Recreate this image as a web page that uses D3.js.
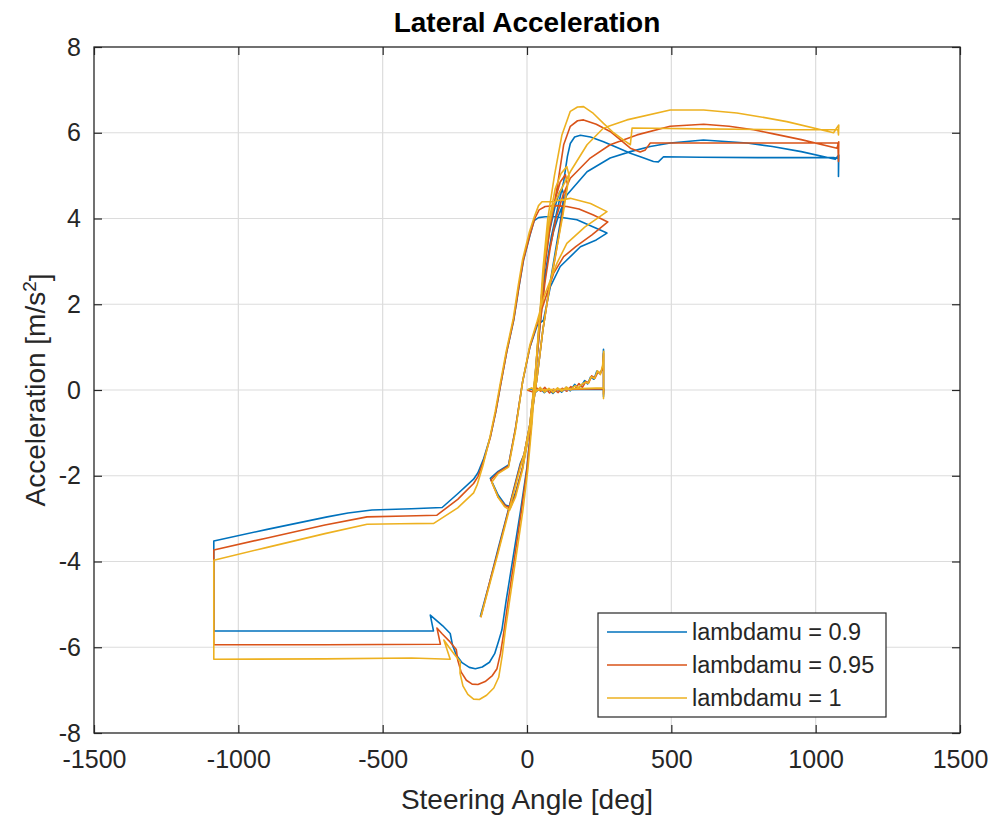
<!DOCTYPE html>
<html>
<head>
<meta charset="utf-8">
<script src="https://cdn.jsdelivr.net/npm/d3@7"></script>
<style>
  body { margin: 0; background: #fff; }
  text { font-family: "Liberation Sans", Arial, sans-serif; fill: #262626; }
</style>
</head>
<body>
<div id="chart"></div>
<script>
// steering angle [deg], lateral acceleration [m/s^2]
var lambda090 = [
  [0,0],[15,0.03],[30,-0.05],[45,0.04],[60,-0.06],[75,0.02],[90,-0.08],[105,0.03],[120,-0.05],[135,0.06],
  [150,-0.02],[165,0.13],[178,0.04],[190,0.12],[200,0.22],[210,0.14],[220,0.3],[232,0.25],[242,0.44],[252,0.38],
  [262,0.5],[265,0.95],[265,-0.15],[266,0.02],[25,0],
  [35,0.9],[48,2.0],[60,2.9],[78,3.7],[98,4.3],[112,4.6],[121,4.7],[128,4.55],
  [115,3.9],[95,3.1],[75,2.3],[55,1.4],[35,0.3],[12,-0.8],[-15,-1.8],[-40,-2.4],[-58,-2.72],
  [-75,-2.68],[-100,-2.45],[-127,-2.06],[-100,-1.9],[-64,-1.75],
  [-40,-0.9],[-15,0.2],[10,1.0],[35,1.5],[57,1.63],[81,2.41],[115,2.88],[185,3.34],[240,3.5],[277,3.66],
  [230,3.8],[173,3.97],[104,4.04],[63,4.04],[40,4.02],
  [25,3.95],[10,3.6],[-12,3.03],[-28,2.4],[-46,1.63],[-70,0.9],[-92,0.1],[-108,-0.5],[-127,-1.09],[-150,-1.6],[-170,-1.93],[-185,-2.08],
  [-240,-2.42],[-294,-2.74],[-400,-2.77],[-537,-2.8],[-620,-2.87],[-692,-2.96],[-900,-3.25],[-1085,-3.52],
  [-1085,-5.62],[-700,-5.62],[-324,-5.62],
  [-335,-5.25],[-318,-5.35],[-292,-5.5],[-266,-5.68],
  [-258,-5.95],[-245,-6.18],[-225,-6.36],[-200,-6.47],[-179,-6.5],[-155,-6.46],[-130,-6.35],[-112,-6.15],[-98,-5.85],[-87,-5.6],
  [-72,-4.9],[-48,-3.9],[-22,-2.8],[0,-1.8],[15,-0.8],[28,0.3],[42,1.5],[60,2.6],[85,3.6],[108,4.3],
  [127,4.86],[140,5.45],[150,5.75],[165,5.9],[185,5.94],[220,5.9],[265,5.79],[310,5.66],[358,5.52],
  [400,5.42],[438,5.33],[455,5.32],[473,5.44],[600,5.43],[800,5.42],[1062,5.42],[1079,5.4],
  [1079,4.98],[1080,5.48],
  [1068,5.38],[950,5.56],[850,5.68],[762,5.76],[611,5.83],[496,5.76],[427,5.68],[358,5.56],[288,5.41],
  [208,5.09],[138,4.55],[110,4.08],[92,3.7],[75,3.2],[60,2.5],[45,1.5],[30,0.4],[10,-0.8],[-10,-1.5],[-23,-1.71],
  [-60,-2.68],[-100,-3.7],[-130,-4.5],[-162,-5.29]
];

var lambda095 = [
  [0,0],[18,-0.04],[33,0.05],[48,-0.03],[62,0.06],[78,-0.07],[92,0.02],[108,-0.06],[122,0.04],[138,-0.03],
  [152,0.08],[166,0.02],[180,0.15],[192,0.06],[204,0.2],[214,0.17],[224,0.33],[236,0.28],[246,0.42],[256,0.4],
  [263,0.55],[265,0.85],[265,-0.1],[266,0.03],[25,0],
  [35,0.9],[48,2.0],[60,2.95],[78,3.8],[98,4.45],[115,4.85],[133,5.02],[140,4.8],
  [120,4.0],[98,3.1],[76,2.3],[55,1.4],[35,0.3],[12,-0.8],[-15,-1.8],[-40,-2.45],[-58,-2.75],
  [-75,-2.7],[-100,-2.5],[-125,-2.1],[-100,-1.92],[-64,-1.77],
  [-40,-0.9],[-15,0.2],[10,1.0],[35,1.55],[57,2.0],[92,2.72],[127,3.11],[170,3.35],[225,3.62],[280,3.92],
  [230,4.08],[180,4.22],[138,4.28],[100,4.3],[63,4.28],[42,4.2],
  [27,4.0],[10,3.62],[-12,3.05],[-28,2.42],[-46,1.65],[-70,0.9],[-92,0.1],[-108,-0.5],[-127,-1.1],[-150,-1.65],[-170,-2.02],[-185,-2.18],
  [-240,-2.55],[-312,-2.92],[-420,-2.94],[-554,-2.96],[-700,-3.15],[-900,-3.45],[-1085,-3.73],
  [-1085,-5.94],[-700,-5.94],[-300,-5.93],
  [-312,-5.55],[-295,-5.68],[-270,-5.85],[-245,-6.05],
  [-240,-6.3],[-228,-6.58],[-210,-6.77],[-190,-6.86],[-170,-6.87],[-145,-6.8],[-120,-6.66],[-104,-6.5],[-92,-6.15],[-81,-5.68],
  [-66,-4.95],[-44,-3.95],[-20,-2.85],[0,-1.85],[15,-0.8],[28,0.3],[42,1.5],[58,2.7],[80,3.8],[105,4.75],
  [127,5.72],[150,6.15],[175,6.28],[196,6.3],[240,6.2],[288,6.03],[330,5.8],[358,5.64],[392,5.55],
  [410,5.6],[427,5.76],[600,5.76],[900,5.76],[1077,5.76],
  [1079,5.33],[1080,5.79],
  [1074,5.64],[950,5.84],[850,5.98],[785,6.07],[700,6.15],[612,6.2],[496,6.15],[381,5.95],[288,5.72],
  [219,5.41],[150,4.94],[125,4.55],[100,4.0],[80,3.3],[62,2.5],[45,1.5],[30,0.4],[10,-0.8],[-10,-1.5],[-23,-1.75],
  [-60,-2.7],[-100,-3.75],[-130,-4.5],[-160,-5.3]
];

var lambda100 = [
  [0,0],[16,0.05],[31,-0.04],[46,0.06],[61,-0.05],[76,0.04],[91,-0.06],[106,0.05],[121,-0.03],[136,0.07],
  [151,0.0],[166,0.1],[179,0.06],[191,0.14],[202,0.18],[212,0.16],[222,0.31],[234,0.27],[244,0.45],[254,0.36],
  [262,0.58],[266,0.9],[265,-0.2],[266,0.05],[25,0],
  [35,0.95],[48,2.1],[60,3.1],[78,4.0],[98,4.7],[118,5.05],[138,5.21],[146,5.0],
  [125,4.1],[100,3.2],[78,2.4],[55,1.4],[35,0.3],[12,-0.8],[-15,-1.85],[-40,-2.5],[-60,-2.8],
  [-78,-2.72],[-100,-2.5],[-122,-2.15],[-100,-1.95],[-64,-1.8],
  [-40,-0.95],[-15,0.2],[10,1.05],[35,1.6],[60,2.2],[104,2.96],[138,3.42],[200,3.8],[277,4.16],
  [220,4.35],[150,4.47],[81,4.39],[52,4.39],[40,4.3],
  [26,4.05],[8,3.68],[-15,3.05],[-30,2.45],[-48,1.65],[-72,0.9],[-94,0.1],[-110,-0.5],[-130,-1.15],[-152,-1.75],[-172,-2.2],[-185,-2.4],
  [-240,-2.75],[-323,-3.11],[-440,-3.12],[-554,-3.13],[-700,-3.35],[-900,-3.67],[-1085,-3.97],
  [-1085,-6.28],[-700,-6.27],[-400,-6.25],[-266,-6.28],
  [-288,-5.83],[-270,-6.0],[-250,-6.18],[-231,-6.34],
  [-232,-6.6],[-222,-6.9],[-205,-7.1],[-185,-7.21],[-165,-7.22],[-140,-7.12],[-115,-6.95],[-98,-6.7],[-86,-6.2],[-75,-5.6],
  [-60,-4.9],[-38,-3.9],[-15,-2.85],[3,-1.85],[17,-0.8],[29,0.3],[42,1.5],[55,2.8],[72,4.0],[95,5.0],
  [121,5.95],[150,6.5],[175,6.6],[196,6.61],[230,6.45],[265,6.22],[300,6.0],[335,5.83],[358,5.72],
  [364,6.11],[600,6.09],[900,6.07],[1077,6.07],
  [1079,5.95],[1080,6.18],
  [1062,6.0],[900,6.26],[800,6.38],[727,6.46],[612,6.53],[496,6.53],[346,6.3],[265,6.11],[208,5.72],
  [150,5.09],[115,4.63],[92,4.32],[75,3.8],[60,3.0],[45,1.7],[30,0.5],[10,-0.8],[-10,-1.5],[-23,-1.8],
  [-60,-2.75],[-100,-3.8],[-130,-4.55],[-160,-5.3]
];

var seriesNames = ["lambdamu = 0.9", "lambdamu = 0.95", "lambdamu = 1"];
var seriesData = [lambda090, lambda095, lambda100];
var seriesColors = ["#0072BD", "#D95319", "#EDB120"];

var xTicks = [-1500, -1000, -500, 0, 500, 1000, 1500];
var yTicks = [-8, -6, -4, -2, 0, 2, 4, 6, 8];

var W = 991, H = 818;
var margin = { top: 47, right: 31, bottom: 85, left: 94 },
    width = W - margin.left - margin.right,
    height = H - margin.top - margin.bottom;

var svg = d3.select("#chart")
  .append("svg")
  .attr("width", W)
  .attr("height", H);

var g = svg.append("g")
  .attr("transform", "translate(" + margin.left + "," + margin.top + ")");

var x = d3.scaleLinear().domain([-1500, 1500]).range([0, width]);
var y = d3.scaleLinear().domain([-8, 8]).range([height, 0]);

// grid
g.append("g").selectAll("line")
  .data(xTicks.slice(1, -1))
  .enter().append("line")
  .attr("x1", function (d) { return x(d); })
  .attr("x2", function (d) { return x(d); })
  .attr("y1", 0).attr("y2", height)
  .style("stroke", "#dcdcdc").style("stroke-width", 1.2);

g.append("g").selectAll("line")
  .data(yTicks.slice(1, -1))
  .enter().append("line")
  .attr("y1", function (d) { return y(d); })
  .attr("y2", function (d) { return y(d); })
  .attr("x1", 0).attr("x2", width)
  .style("stroke", "#dcdcdc").style("stroke-width", 1.2);

// data lines
svg.append("clipPath").attr("id", "plotclip")
  .append("rect").attr("width", width).attr("height", height);

var line = d3.line()
  .x(function (d) { return x(d[0]); })
  .y(function (d) { return y(d[1]); });

g.append("g").attr("clip-path", "url(#plotclip)")
  .selectAll("path")
  .data(seriesData)
  .enter().append("path")
  .attr("d", line)
  .style("fill", "none")
  .style("stroke", function (d, i) { return seriesColors[i]; })
  .style("stroke-width", 1.6)
  .style("stroke-linejoin", "round");

// axes, ticks pointing inward (box on)
function styleAxis(sel) {
  sel.select(".domain").remove();
  sel.selectAll(".tick line").style("stroke", "#262626").style("stroke-width", 1.2);
  sel.selectAll(".tick text").style("font-size", "25px").style("fill", "#262626")
    .style("font-family", '"Liberation Sans", Arial, sans-serif');
}
var fmt = function (d) { return String(d); };

g.append("g").attr("transform", "translate(0," + height + ")")
  .call(d3.axisBottom(x).tickValues(xTicks).tickFormat(fmt).tickSizeInner(-8).tickSizeOuter(0).tickPadding(17))
  .call(styleAxis);
g.append("g")
  .call(d3.axisTop(x).tickValues(xTicks).tickFormat("").tickSizeInner(-8).tickSizeOuter(0))
  .call(styleAxis);
g.append("g")
  .call(d3.axisLeft(y).tickValues(yTicks).tickFormat(fmt).tickSizeInner(-8).tickSizeOuter(0).tickPadding(13))
  .call(styleAxis);
g.append("g").attr("transform", "translate(" + width + ",0)")
  .call(d3.axisRight(y).tickValues(yTicks).tickFormat("").tickSizeInner(-8).tickSizeOuter(0))
  .call(styleAxis);

g.append("rect")
  .attr("width", width).attr("height", height)
  .style("fill", "none").style("stroke", "#262626").style("stroke-width", 1.3);

// title and labels
svg.append("text")
  .attr("x", margin.left + width / 2).attr("y", 32)
  .attr("text-anchor", "middle")
  .style("font-size", "28px").style("font-weight", "bold").style("fill", "#000")
  .text("Lateral Acceleration");

svg.append("text")
  .attr("x", margin.left + width / 2).attr("y", 809)
  .attr("text-anchor", "middle")
  .style("font-size", "28px")
  .text("Steering Angle [deg]");

var ylab = svg.append("text")
  .attr("transform", "translate(45," + (margin.top + height / 2) + ") rotate(-90)")
  .attr("text-anchor", "middle")
  .style("font-size", "28px");
ylab.append("tspan").text("Acceleration [m/s");
ylab.append("tspan").attr("dy", "-0.45em").style("font-size", "19px").text("2");
ylab.append("tspan").attr("dy", "0.45em").text("]");

// legend
var legend = svg.append("g").attr("transform", "translate(598,613)");
legend.append("rect")
  .attr("width", 288).attr("height", 104)
  .style("fill", "#fff").style("stroke", "#262626").style("stroke-width", 1.2);

var items = legend.selectAll("g.item")
  .data(seriesNames)
  .enter().append("g")
  .attr("class", "item")
  .attr("transform", function (d, i) { return "translate(0," + (19 + i * 33) + ")"; });

items.append("line")
  .attr("x1", 9).attr("x2", 89)
  .style("stroke", function (d, i) { return seriesColors[i]; })
  .style("stroke-width", 1.6);

items.append("text")
  .attr("x", 94).attr("dy", "0.35em")
  .style("font-size", "23.5px")
  .text(function (d) { return d; });
</script>
</body>
</html>
